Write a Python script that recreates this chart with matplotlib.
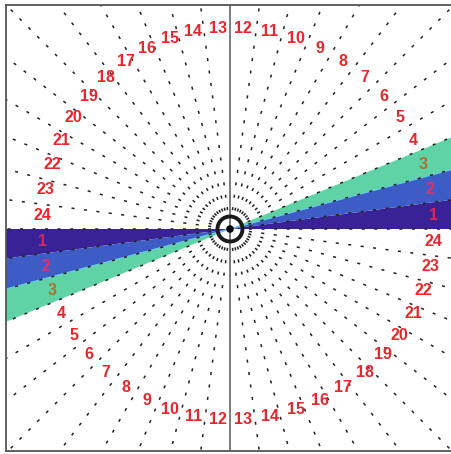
import numpy as np
import matplotlib
matplotlib.use("Agg")
import matplotlib.pyplot as plt
from matplotlib.patches import Wedge, Circle

plt.rcParams["font.family"] = ["Liberation Sans", "DejaVu Sans"]

# sector numbering: 24 sectors per half turn, counted counter-clockwise
sector_labels = ["1", "2", "3", "4", "5", "6", "7", "8", "9", "10", "11", "12",
                 "13", "14", "15", "16", "17", "18", "19", "20", "21", "22", "23", "24"]
sector_width = 7.5  # degrees

# highlighted sectors and their fill colours
shaded_sectors = [1, 2, 3]
shaded_colors = ["#392296", "#3d5cc6", "#60d3a6"]
shaded_text_colors = ["#dd2258", "#e0306a", "#a8722e"]

label_color = "#e8262b"

fig = plt.figure(figsize=(4.52, 4.54), dpi=100)
ax = fig.add_axes([6 / 452, 3 / 454, 448 / 452, 446 / 454])
ax.set_xlim(-224, 224)
ax.set_ylim(-222, 224)
ax.set_aspect("auto")
ax.set_xticks([])
ax.set_yticks([])
for s in ax.spines.values():
    s.set_color("#555555")
    s.set_linewidth(1.3)

# filled sectors on both sides of the centre
for num, col in zip(shaded_sectors, shaded_colors):
    a0 = (num - 1) * sector_width
    a1 = num * sector_width
    for base in (0, 180):
        ax.add_patch(Wedge((0, 0), 500, base + a0, base + a1,
                           facecolor=col, edgecolor="none", zorder=1))

# light edge between sectors 2 and 3
for base in (0, 180):
    t = np.radians(base + 2 * sector_width)
    ax.plot([0, 500 * np.cos(t)], [0, 500 * np.sin(t)], color="#66c8e6",
            lw=0.9, zorder=1.5)

# dashed radial boundaries
r0 = 19
n_lines = int(round(360 / sector_width))
for k in range(n_lines):
    t = np.radians(k * sector_width)
    if k * sector_width in (90, 270):
        continue
    ax.plot([r0 * np.cos(t), 500 * np.cos(t)], [r0 * np.sin(t), 500 * np.sin(t)],
            color="#222222", lw=1.1, linestyle=(0, (2.0, 6.2)), zorder=2)

# vertical axis line
ax.axvline(0, color="#666666", lw=1.2, zorder=2)

# centre marker
ax.add_patch(Circle((0, 0), 12.5, facecolor="none", edgecolor="#1a1a1a",
                    lw=2.8, zorder=4))
ax.add_patch(Circle((0, 0), 3.8, facecolor="#000000", edgecolor="none", zorder=5))

# sector numbers, upper half then lower half
r_lab = 196
for half in (0, 180):
    for i, lab in enumerate(sector_labels):
        theta = np.radians(half + (i + 0.5) * sector_width)
        c, s = np.cos(theta), np.sin(theta)
        x = r_lab * c + 8 * abs(c)
        y = r_lab * s + 5 * abs(s)
        num = i + 1
        col = label_color
        if num in shaded_sectors:
            col = shaded_text_colors[shaded_sectors.index(num)]
        ax.text(x, y, lab, color=col, fontsize=11.5, fontweight="bold",
                ha="center", va="center", zorder=6)

fig.savefig("out.png", dpi=100)
